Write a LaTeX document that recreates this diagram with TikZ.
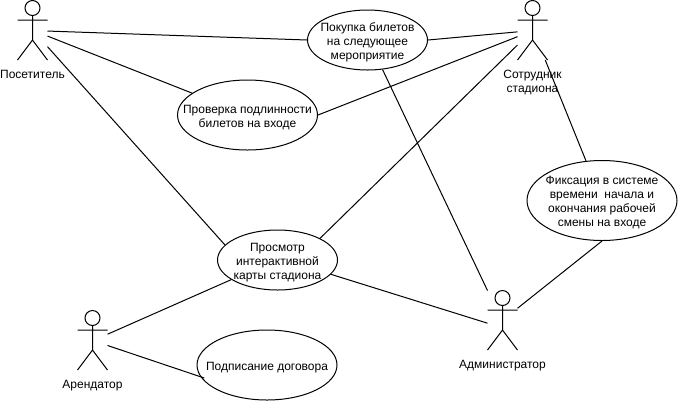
\documentclass[tikz,border=0pt]{standalone}
\usepackage{fontspec}
\setmainfont{Liberation Sans}
\usetikzlibrary{positioning,shapes.geometric}
\newcommand{\casetop}{\rule{0pt}{9.5pt}}
\newcommand{\umlactor}[2]{%
  \node[actorbox] (#1) at (#2) {};
  \begin{scope}[shift={(#2)}]
    \draw[assoc] (0,-22) circle[radius=7.5];
    \draw[assoc] (-15,-10)--(15,-10) (0,-14.5)--(0,10) (-15,30)--(0,10)--(15,30);
  \end{scope}}
\begin{document}
\begin{tikzpicture}[x=0.75pt,y=-0.75pt,font=\fontsize{9pt}{10.5pt}\selectfont,node distance=7.5pt,
  assoc/.style={draw=black,line width=0.75pt},
  actorbox/.style={rectangle,minimum width=22.5pt,minimum height=45pt,inner sep=0pt,outer sep=0pt},
  actortext/.style={align=center,inner sep=0pt},
  usecase/.style={ellipse,draw=black,line width=0.75pt,inner sep=-5cm,align=center},
  small/.style={usecase,minimum width=90pt,minimum height=45pt},
  middle/.style={usecase,minimum width=105pt,minimum height=52.5pt},
  large/.style={usecase,minimum width=112.5pt,minimum height=60pt}]
\useasboundingbox (0,0) rectangle (678,401);
\umlactor{visitor}{32.5,30}
\umlactor{staff}{532.5,30}
\umlactor{tenant}{92.5,340}
\umlactor{admin}{502.5,320}
\node[actortext,below=of visitor] (visitortext) {Посетитель};
\node[actortext,below=of staff] (stafftext) {Сотрудник\\стадиона};
\node[actortext,below=of tenant] (tenanttext) {Арендатор};
\node[actortext,below=of admin] (admintext) {Администратор};
\node[small] (buy) at (367.5,40) {\casetop Покупка билетов\\на следующее\\мероприятие};
\node[middle] (check) at (247.5,115) {\casetop Проверка подлинности\\билетов на входе};
\node[large] (shift) at (602,200.5) {\casetop Фиксация в системе\\времени\ \ начала и\\окончания рабочей\\смены на входе};
\node[small] (map) at (277.5,260) {\casetop Просмотр\\интерактивной\\карты стадиона};
\node[middle] (contract) at (267,365) {\casetop Подписание договора};
\draw[assoc] (visitor.-4)--(buy.west);
\draw[assoc] (visitor.-22)--(check);
\draw[assoc] (visitor.-48.6)--(map.164);
\draw[assoc] (buy.east)--(staff.187.6);
\draw[assoc] (check.east)--(staff.204);
\draw[assoc] (map.27)--(staff.225);
\draw[assoc] (staff.-67.4)--(shift.112.3);
\draw[assoc] (buy.-63)--(admin.117.1);
\draw[assoc] (map.-15.2)--(admin.192.4);
\draw[assoc] (shift.south)--(admin.38);
\draw[assoc] (tenant.21.8)--(map.203.6);
\draw[assoc,shorten >=-3pt] (tenant.-20.8)--(contract.190);
\end{tikzpicture}
\end{document}
